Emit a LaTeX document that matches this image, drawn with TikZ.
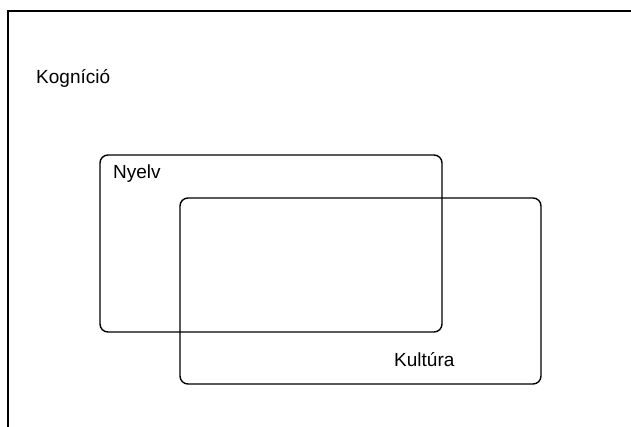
\documentclass[tikz,border=0pt]{standalone}
\usepackage{fontspec}
\setmainfont{Liberation Sans}
\begin{document}
\begin{tikzpicture}[x=1pt,y=-1pt,
  setbox/.style={draw, line width=1.4pt, rounded corners=8pt, inner sep=0pt},
  lbl/.style={inner sep=0pt, anchor=base west, font=\fontsize{19}{21}\selectfont}]
\useasboundingbox (0,0) rectangle (631,426);
\clip (0,0) rectangle (631,426);
\fill[white] (0,0) rectangle (631,426);
% outer frame (Kognició)
\node[draw, line width=1.8pt, inner sep=0pt, minimum width=680pt, minimum height=480pt, anchor=north west] (kog) at (7,10) {};
\node[lbl] (kogt) at (36,83) {Kogníció};
% Nyelv
\node[setbox, minimum width=342pt, minimum height=177pt] (nyelv) at (271,243.5) {};
\node[lbl] (nyelvt) at (113,178) {Nyelv};
% Kultúra
\node[setbox, minimum width=361pt, minimum height=186pt] (kult) at (360.5,291) {};
\node[lbl] (kultt) at (394,366) {Kultúra};
\end{tikzpicture}
\end{document}
